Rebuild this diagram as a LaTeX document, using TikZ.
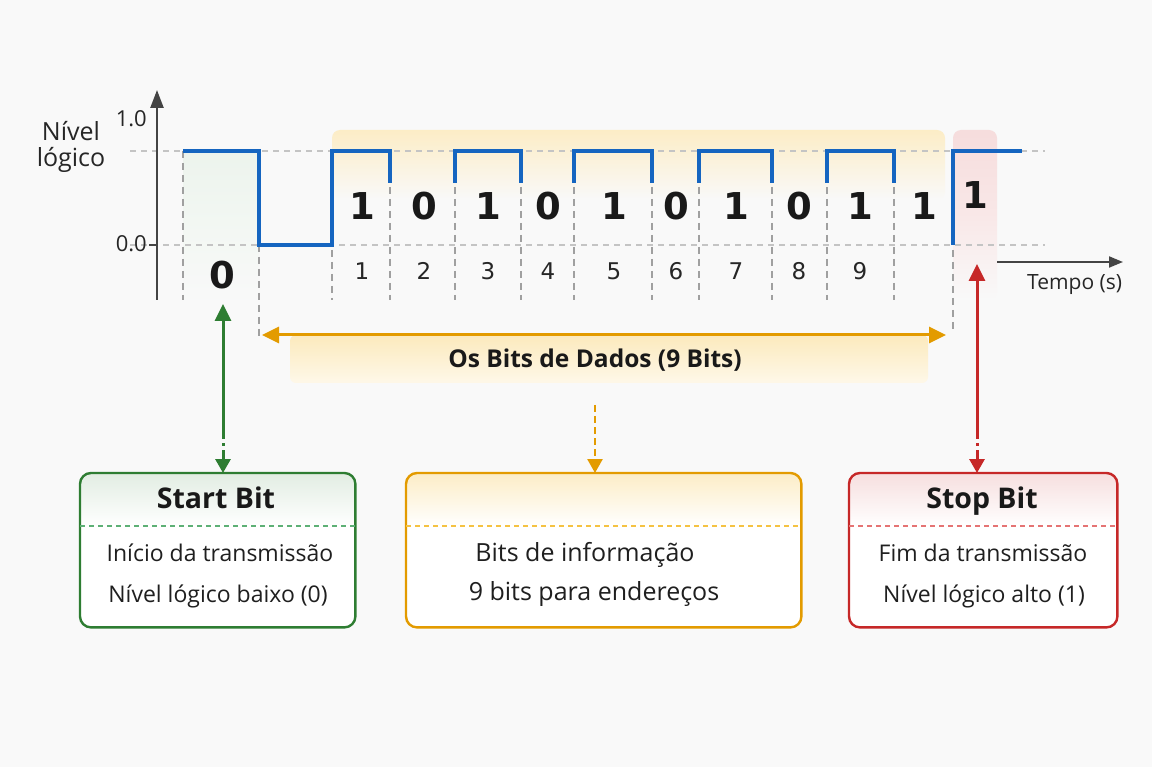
\documentclass[tikz,border=0pt]{standalone}
\usepackage{fontspec}
\setmainfont{Open Sans}
\newfontfamily\digitfont{DejaVu Sans}
\usetikzlibrary{arrows.meta,calc}
\definecolor{wave}{HTML}{1565C0}
\definecolor{gr}{HTML}{2E7D32}
\definecolor{grl}{HTML}{5DB075}
\definecolor{org}{HTML}{E39B00}
\definecolor{orl}{HTML}{F5C242}
\definecolor{rd}{HTML}{C62828}
\definecolor{rdl}{HTML}{E57373}
\definecolor{bg}{HTML}{F9F9F9}
\definecolor{axis}{HTML}{444444}
\definecolor{gridc}{HTML}{C4C4C4}
\definecolor{vgrid}{HTML}{A0A0A0}
\tikzset{
  wavel/.style={wave, line width=3.2pt, line join=miter},
  hgrid/.style={gridc, line width=1.2pt, dash pattern=on 6pt off 5pt},
  vdash/.style={vgrid, line width=1.2pt, dash pattern=on 7pt off 5pt},
  bigbit/.style={font=\digitfont\bfseries\fontsize{37}{40}\selectfont, text=black!90, anchor=base, inner sep=0pt},
  idx/.style={font=\digitfont\fontsize{23}{26}\selectfont, text=black!85, anchor=base, inner sep=0pt},
  lbl/.style={font=\fontsize{21}{25}\selectfont, text=black!85, anchor=base, inner sep=0pt},
  ttl/.style={font=\bfseries\fontsize{28.5}{32}\selectfont, text=black!90, anchor=base, inner sep=0pt},
  body/.style={font=\fontsize{23}{27}\selectfont, text=black!88, anchor=base, inner sep=0pt},
  bigtip/.tip={Triangle[length=17pt,width=16pt]},
  smalltip/.tip={Triangle[length=14pt,width=15pt]},
  boxframe/.style={line width=2.4pt, rounded corners=11pt},
}
\begin{document}
\begin{tikzpicture}[x=1pt,y=-1pt]
\fill[bg] (0,0) rectangle (1152,767);
\useasboundingbox (0,0) rectangle (1152,767);

% shaded regions
\shade[top color=gr!9, bottom color=bg, middle color=gr!6] (183,151) rectangle (259,305);
\shade[top color=orl!30, bottom color=bg, rounded corners=8pt] (332,130) rectangle (945,200);
\shade[top color=rd!16, bottom color=bg, middle color=rd!11, rounded corners=8pt] (953,130) rectangle (997,300);

% grid lines
\draw[hgrid] (130,151) -- (1045,151);
\draw[hgrid] (130,245) -- (1045,245);
\draw[vdash] (183,151) -- (183,300);
\draw[vdash] (259,245) -- (259,338);
\draw[vdash] (332,250) -- (332,300);
\foreach \x in {390,455,521,574,652,699,772,827,894}
  \draw[vdash] (\x,187) -- (\x,300);
\draw[vdash] (953,250) -- (953,330);

% axes
\draw[axis, line width=2.4pt, -{Triangle[length=18pt,width=13pt]}] (157,300) -- (157,90);
\draw[axis, line width=1.8pt] (149,245) -- (157,245);
\draw[axis, line width=2pt, -{Triangle[length=14pt,width=11pt]}] (997,262) -- (1123,262);

% waveform
\draw[wavel] (183,151) -- (259,151) -- (259,245) -- (332,245) -- (332,151) -- (390,151) -- (390,183);
\draw[wavel] (455,183) -- (455,151) -- (521,151) -- (521,183);
\draw[wavel] (574,183) -- (574,151) -- (652,151) -- (652,183);
\draw[wavel] (699,183) -- (699,151) -- (772,151) -- (772,183);
\draw[wavel] (827,183) -- (827,151) -- (894,151) -- (894,183);
\draw[wavel] (953,245) -- (953,151) -- (1022,151);

% axis labels
\node[lbl, font=\fontsize{25}{28}\selectfont] (nivel) at (71,141) {Nível};
\node[lbl, font=\fontsize{25}{28}\selectfont] (logico) at (71,167) {lógico};
\node[lbl, font=\fontsize{22}{26}\selectfont, anchor=base east] (one) at (147,127) {1.0};
\node[lbl, font=\fontsize{22}{26}\selectfont, anchor=base east] (zero) at (147,252) {0.0};
\node[lbl, anchor=base west] (tempo) at (1027,290) {Tempo (s)};

% bits
\node[bigbit] (s0) at (222,289) {0};
\foreach \x/\b [count=\i] in {362/1,424/0,488/1,548/0,614/1,676/0,736/1,799/0,860/1}
  \node[bigbit] (b\i) at (\x,220) {\b};
\node[bigbit] (b10) at (924,220) {1};
\node[bigbit] (stop1) at (975,209) {1};
\foreach \x [count=\i] in {362,424,488,548,614,676,736,799,860}
  \node[idx] (i\i) at (\x,280) {\i};

% data band and double arrow
\shade[top color=orl!35, bottom color=orl!12, rounded corners=6pt] (290,335) rectangle (928,383);
\coordinate (dl) at (262,335);
\coordinate (dr) at (946,335);
\draw[org, line width=3pt, {bigtip}-{bigtip}] (dl) -- (dr);
\node[ttl, font=\bfseries\fontsize{24.5}{28}\selectfont] (dados) at (595,368) {Os Bits de Dados (9 Bits)};

% boxes
\node[fill=white, minimum width=275pt, minimum height=154pt, inner sep=0pt, anchor=north west, rounded corners=11pt] (sb) at (80,473) {};
\node[fill=white, minimum width=395pt, minimum height=154pt, inner sep=0pt, anchor=north west, rounded corners=11pt] (db) at (406,473) {};
\node[fill=white, minimum width=268pt, minimum height=154pt, inner sep=0pt, anchor=north west, rounded corners=11pt] (pb) at (849,473) {};

\shade[top color=gr!14, bottom color=white] (80,526) [rounded corners=11pt] -- (80,473) -- (355,473) [sharp corners] -- (355,526) -- cycle;
\shade[top color=orl!30, bottom color=white] (406,526) [rounded corners=11pt] -- (406,473) -- (801,473) [sharp corners] -- (801,526) -- cycle;
\shade[top color=rd!15, bottom color=white] (849,526) [rounded corners=11pt] -- (849,473) -- (1117,473) [sharp corners] -- (1117,526) -- cycle;

\draw[gr, boxframe] (sb.north west) rectangle (sb.south east);
\draw[org, boxframe] (db.north west) rectangle (db.south east);
\draw[rd, boxframe] (pb.north west) rectangle (pb.south east);

\draw[grl, line width=1.3pt, dash pattern=on 5pt off 4pt] (sb.west |- 0,526) -- (sb.east |- 0,526);
\draw[orl, line width=1.3pt, dash pattern=on 5pt off 4pt] (db.west |- 0,526) -- (db.east |- 0,526);
\draw[rdl, line width=1.3pt, dash pattern=on 5pt off 4pt] (pb.west |- 0,526) -- (pb.east |- 0,526);

\node[ttl] (sbt) at (216,508) {Start Bit};
\node[body] (sb1) at (220,561) {Início da transmissão};
\node[body] (sb2) at (218,602) {Nível lógico baixo (0)};
\node[body, font=\fontsize{25}{29}\selectfont] (db1) at (585,561) {Bits de informação};
\node[body, font=\fontsize{25}{29}\selectfont] (db2) at (594,600) {9 bits para endereços};
\node[ttl] (pbt) at (982,508) {Stop Bit};
\node[body] (pb1) at (983,561) {Fim da transmissão};
\node[body] (pb2) at (984,602) {Nível lógico alto (1)};

% connectors
\coordinate (gtop) at (223,304);
\coordinate (gmid) at (223,430);
\draw[gr, line width=3pt, {bigtip}-] (gtop) -- (gmid);
\draw[gr, line width=3pt, dash pattern=on 9pt off 4pt on 3pt off 4pt, -{smalltip}] (gmid) -- (sb.north -| gmid);

\coordinate (dtop) at (595,405);
\draw[org, line width=2.6pt, dash pattern=on 7pt off 4pt, -{smalltip}] (dtop) -- (db.north -| dtop);

\coordinate (rtop) at (977,264);
\coordinate (rmid) at (977,430);
\draw[rd, line width=3pt, {bigtip}-] (rtop) -- (rmid);
\draw[rd, line width=3pt, dash pattern=on 9pt off 4pt on 3pt off 4pt, -{smalltip}] (rmid) -- (pb.north -| rmid);
\end{tikzpicture}
\end{document}
